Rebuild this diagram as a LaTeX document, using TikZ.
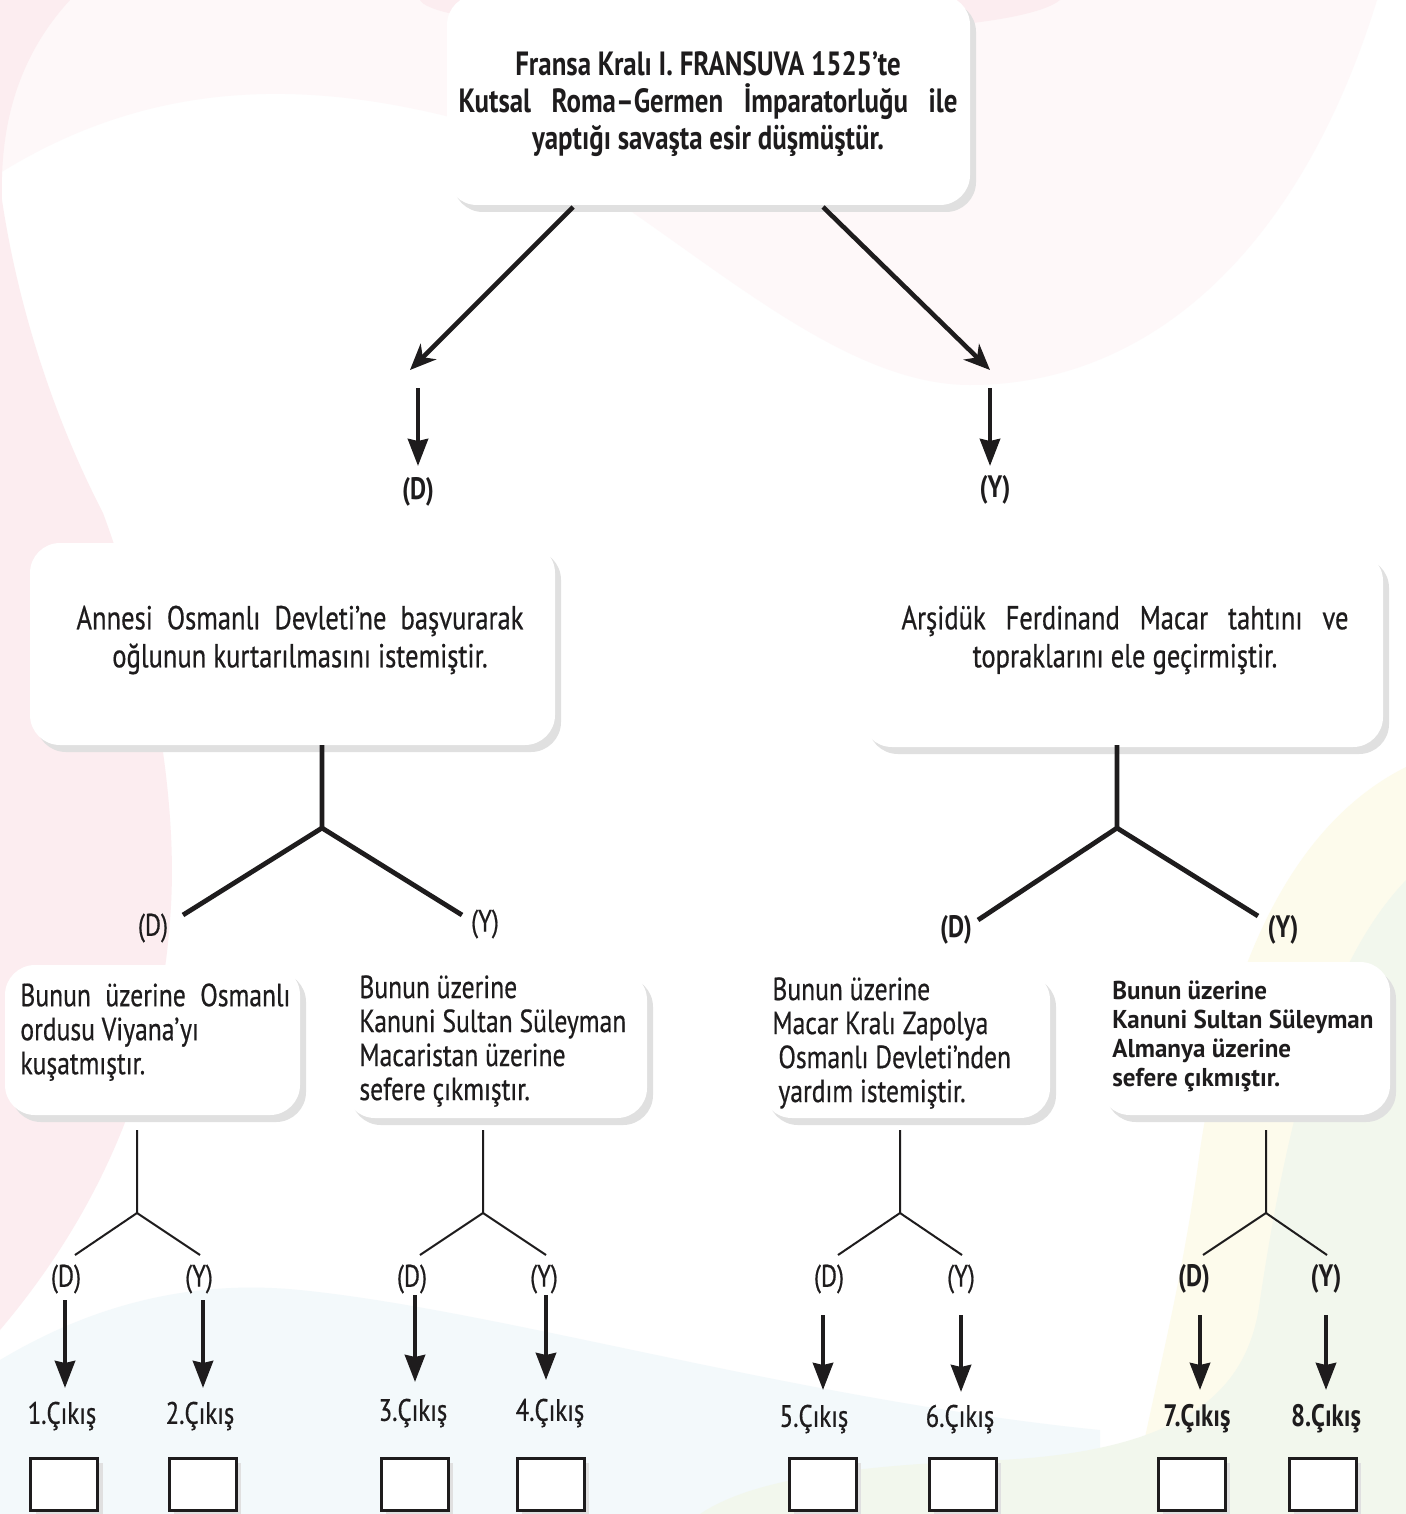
\documentclass[tikz,border=0pt]{standalone}
\usepackage{fontspec}
\setmainfont{PT Sans}[FakeStretch=0.8, UprightFeatures={FakeBold=0.5}]
\newfontfamily\widefont{PT Sans}[FakeStretch=0.97]
\usetikzlibrary{shadows,arrows.meta}
\definecolor{pinkA}{RGB}{252,237,240}
\definecolor{pinkB}{RGB}{254,248,249}
\definecolor{blueA}{RGB}{243,249,251}
\definecolor{yellowA}{RGB}{253,251,236}
\definecolor{greenA}{RGB}{242,247,237}
\definecolor{shadowgray}{RGB}{224,224,224}
\definecolor{ink}{RGB}{30,28,29}
\begin{document}
\begin{tikzpicture}[x=0.5pt,y=-0.5pt,
  boxshape/.style={fill=white, draw=none, rounded corners=15pt, inner sep=0pt,
    drop shadow={shadow xshift=3pt,shadow yshift=-3.5pt,fill=shadowgray,opacity=1}},
  bigtext/.style={font=\fontsize{16.6pt}{19pt}\selectfont, align=center, inner sep=0pt, text=ink},
  smalltext/.style={font=\fontsize{16pt}{17pt}\selectfont, align=left, inner sep=0pt, anchor=north west, text=ink},
  lab/.style={font=\fontsize{15.5pt}{17pt}\selectfont, inner sep=0pt, text=ink},
  blab/.style={lab, font=\fontsize{15.5pt}{17pt}\selectfont\bfseries},
  thickline/.style={line width=2.4pt, draw=ink},
  thinline/.style={line width=1pt, draw=ink},
  diagarrow/.style={line width=2.3pt, draw=ink, -{Stealth[length=13pt,width=11pt,inset=4pt]}},
  downarrow/.style={line width=2.2pt, draw=ink, -{Stealth[length=13.5pt,width=10pt,inset=1pt]}},
  squarebox/.style={draw=ink, line width=1.5pt, fill=white, minimum width=33.5pt, minimum height=26pt, inner sep=0pt,
    drop shadow={shadow xshift=2.5pt,shadow yshift=-2.5pt,fill=shadowgray,opacity=1}}
]
\useasboundingbox (0,0) rectangle (1406,1514);
\fill[white] (0,0) rectangle (1406,1514);
% ---------- background ----------
\fill[pinkB] (0,0) -- (1377,0) .. controls (1300,250) and (1150,385) .. (970,385)
  .. controls (800,385) and (620,160) .. (450,117) .. controls (300,80) and (150,80) .. (0,173) -- cycle;
\fill[pinkA] (0,0) -- (70,0) .. controls (15,60) and (0,130) .. (2,200)
  .. controls (20,320) and (60,430) .. (103,513) .. controls (150,640) and (180,800) .. (170,920)
  .. controls (160,1060) and (110,1200) .. (0,1330) -- cycle;
\fill[pinkA] (420,0) .. controls (440,40) and (1000,50) .. (1060,0) -- cycle;
\fill[blueA] (0,1360) .. controls (100,1300) and (200,1280) .. (300,1290)
  .. controls (500,1310) and (800,1400) .. (1100,1430) -- (1100,1514) -- (0,1514) -- cycle;
\fill[yellowA] (1406,767) .. controls (1300,820) and (1230,950) .. (1200,1150)
  .. controls (1180,1300) and (1150,1400) .. (1130,1514) -- (1406,1514) -- cycle;
\fill[greenA] (1406,880) .. controls (1330,960) and (1290,1100) .. (1260,1300)
  .. controls (1250,1380) and (1200,1450) .. (1000,1460) .. controls (850,1465) and (750,1480) .. (700,1514)
  -- (1406,1514) -- cycle;
% ---------- boxes ----------
\node[boxshape, minimum width=261.5pt, minimum height=105pt] (b0) at (708.5,100) {};
\node[boxshape, minimum width=262.5pt, minimum height=101pt] (b1) at (292.5,644) {};
\node[boxshape, minimum width=260.5pt, minimum height=98pt] (b2) at (1122.5,649) {};
\node[boxshape, minimum width=147.5pt, minimum height=75pt] (s1) at (152.5,1040) {};
\node[boxshape, minimum width=151pt, minimum height=74pt] (s2) at (496,1044) {};
\node[boxshape, minimum width=144pt, minimum height=74pt] (s3) at (906,1044) {};
\node[boxshape, minimum width=145pt, minimum height=76.5pt] (s4) at (1245,1038.5) {};
% ---------- box texts ----------
\node[bigtext, font=\fontsize{16.8pt}{18.5pt}\selectfont\bfseries] (t0) at (708,104)
  {Fransa Kralı I. FRANSUVA 1525’te\\\makebox[249.5pt][s]{Kutsal Roma–Germen İmparatorluğu ile}\\yaptığı savaşta esir düşmüştür.};
\node[bigtext] (t1) at (300,640)
  {\makebox[223.5pt][s]{Annesi Osmanlı Devleti’ne başvurarak}\\oğlunun kurtarılmasını istemiştir.};
\node[bigtext] (t2) at (1125,640)
  {\makebox[223.5pt][s]{Arşidük Ferdinand Macar tahtını ve}\\topraklarını ele geçirmiştir.};
\node[smalltext] (t3) at (20,983)
  {\makebox[135pt][s]{Bunun üzerine Osmanlı}\\ordusu Viyana’yı\\kuşatmıştır.};
\node[smalltext] (t4) at (359,975)
  {Bunun üzerine\\Kanuni Sultan Süleyman\\Macaristan üzerine\\sefere çıkmıştır.};
\node[smalltext] (t5) at (772,977)
  {Bunun üzerine\\Macar Kralı Zapolya\\\hspace*{3pt}Osmanlı Devleti’nden\\\hspace*{3pt}yardım istemiştir.};
\node[smalltext, font=\widefont\fontsize{12.9pt}{14.6pt}\selectfont\bfseries] (t6) at (1112,980)
  {Bunun üzerine\\Kanuni Sultan Süleyman\\Almanya üzerine\\sefere çıkmıştır.};
% ---------- top arrows ----------
\coordinate (a1s) at (573,207); \coordinate (a1e) at (410,370);
\coordinate (a2s) at (823,207); \coordinate (a2e) at (990,370);
\draw[diagarrow] (a1s) -- (a1e);
\draw[diagarrow] (a2s) -- (a2e);
\coordinate (v1s) at (418,388); \coordinate (v1e) at (418,466);
\coordinate (v2s) at (990,388); \coordinate (v2e) at (990,466);
\draw[downarrow] (v1s) -- (v1e);
\draw[downarrow] (v2s) -- (v2e);
\node[blab] (lD0) at (418,492) {(D)};
\node[blab] (lY0) at (995,490) {(Y)};
% ---------- middle forks ----------
\coordinate (f1t) at (322,745); \coordinate (f1j) at (322,828);
\coordinate (f1l) at (183,915); \coordinate (f1r) at (462,915);
\draw[thickline] (f1t) -- (f1j) -- (f1l);
\draw[thickline] (f1j) -- (f1r);
\coordinate (f2t) at (1117,745); \coordinate (f2j) at (1117,828);
\coordinate (f2l) at (978,920); \coordinate (f2r) at (1258,916);
\draw[thickline] (f2t) -- (f2j) -- (f2l);
\draw[thickline] (f2j) -- (f2r);
\node[lab] (lD1) at (153,928) {(D)};
\node[lab] (lY1) at (485,924) {(Y)};
\node[blab] (lD2) at (956,930) {(D)};
\node[blab] (lY2) at (1283,930) {(Y)};
% ---------- lower forks ----------
\foreach \n/\cx/\lx/\rx in {1/137/75/200, 2/483/420/546, 3/900/838/962, 4/1266/1203/1327}{
  \coordinate (g\n t) at (\cx,1130);
  \coordinate (g\n j) at (\cx,1213);
  \coordinate (g\n l) at (\lx,1255);
  \coordinate (g\n r) at (\rx,1255);
  \draw[thinline] (g\n t) -- (g\n j) -- (g\n l);
  \draw[thinline] (g\n j) -- (g\n r);
}
\node[lab] (d1) at (66,1279) {(D)};
\node[lab] (y1) at (199,1279) {(Y)};
\node[lab] (d2) at (412,1279) {(D)};
\node[lab] (y2) at (544,1279) {(Y)};
\node[lab] (d3) at (829,1279) {(D)};
\node[lab] (y3) at (961,1279) {(Y)};
\node[blab] (d4) at (1194,1279) {(D)};
\node[blab] (y4) at (1326,1279) {(Y)};
% ---------- bottom arrows ----------
\foreach \n/\ax/\ys/\ye in {1/65/1300/1388, 2/203/1300/1388, 3/415/1295/1382, 4/546/1295/1380,
                            5/823/1315/1390, 6/961/1315/1392, 7/1200/1315/1390, 8/1326/1315/1390}{
  \coordinate (h\n s) at (\ax,\ys);
  \coordinate (h\n e) at (\ax,\ye);
  \draw[downarrow] (h\n s) -- (h\n e);
}
\node[lab] (c1) at (62,1416) {1.Çıkış};
\node[lab] (c2) at (200,1416) {2.Çıkış};
\node[lab] (c3) at (413,1413) {3.Çıkış};
\node[lab] (c4) at (550,1413) {4.Çıkış};
\node[lab] (c5) at (814,1419) {5.Çıkış};
\node[lab] (c6) at (960,1419) {6.Çıkış};
\node[blab] (c7) at (1197,1419) {7.Çıkış};
\node[blab] (c8) at (1326,1419) {8.Çıkış};
% ---------- answer squares ----------
\node[squarebox] (q1) at (64,1484) {};
\node[squarebox] (q2) at (202.5,1484) {};
\node[squarebox] (q3) at (414.5,1484) {};
\node[squarebox] (q4) at (550.5,1484) {};
\node[squarebox] (q5) at (822.5,1484) {};
\node[squarebox] (q6) at (962.5,1484) {};
\node[squarebox] (q7) at (1191.5,1484) {};
\node[squarebox] (q8) at (1322.5,1484) {};
\end{tikzpicture}
\end{document}
